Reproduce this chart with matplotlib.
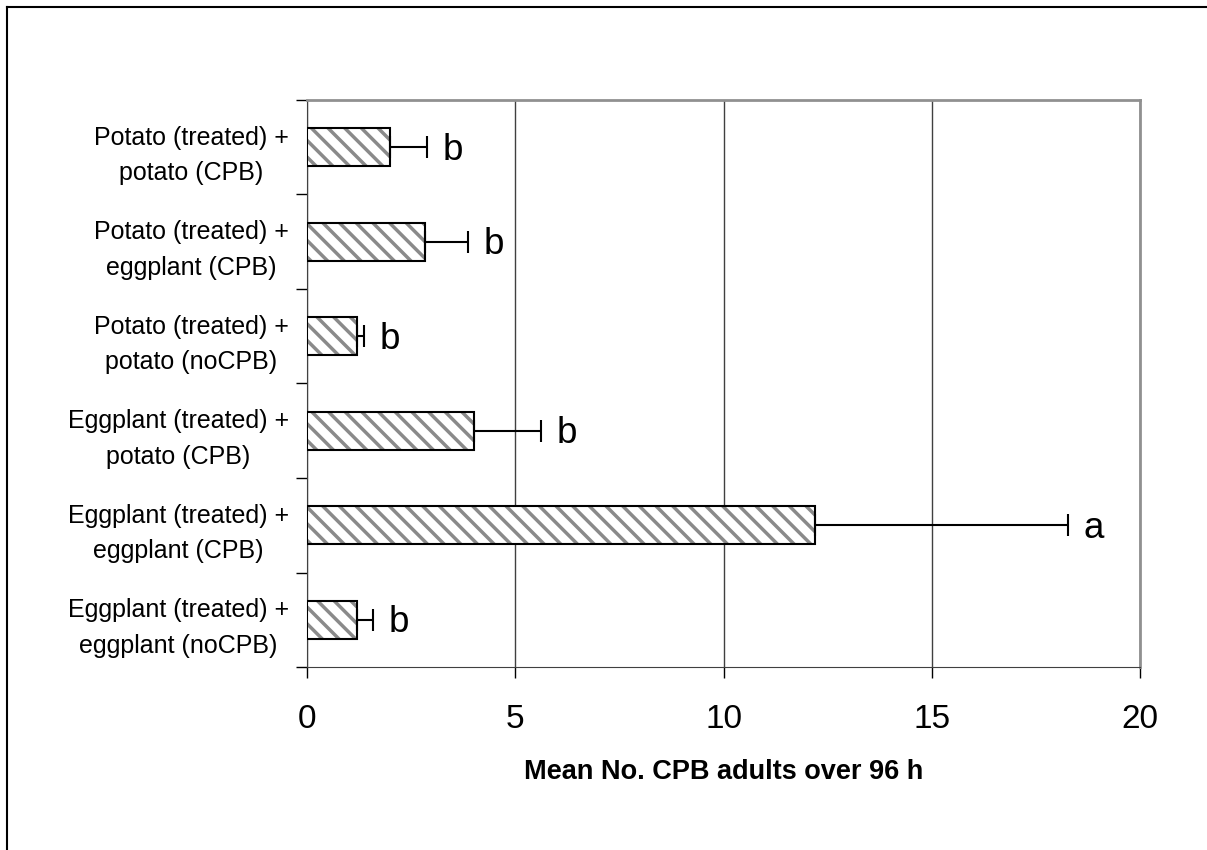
import matplotlib.pyplot as plt
from matplotlib.lines import Line2D

plt.rcParams['font.family'] = ['Liberation Sans', 'DejaVu Sans']
plt.rcParams['hatch.linewidth'] = 2.5

categories = ['Potato (treated) +\npotato (CPB)',
              'Potato (treated) +\neggplant (CPB)',
              'Potato (treated) +\npotato (noCPB)',
              'Eggplant (treated) +\npotato (CPB)',
              'Eggplant (treated) +\neggplant (CPB)',
              'Eggplant (treated) +\neggplant (noCPB)']
means = [2.0, 2.83, 1.2, 4.0, 12.2, 1.2]
errors = [0.88, 1.04, 0.17, 1.62, 6.07, 0.38]
letters = ['b', 'b', 'b', 'b', 'a', 'b']

fig = plt.figure(figsize=(12.07, 8.5), dpi=100)
ax = fig.add_axes([307/1207, 1-667/850, 833/1207, 567/850])

ypos = list(range(len(categories)))
# hatch layer (gray stripes) then black outline
ax.barh(ypos, means, height=0.4, color='white', edgecolor='#8a8a8a',
        linewidth=0, hatch='\\\\', zorder=3)
ax.barh(ypos, means, height=0.4, fill=False, edgecolor='black',
        linewidth=1.5, zorder=4)
ax.errorbar(means, ypos, xerr=[[0]*len(means), errors], fmt='none',
            ecolor='black', elinewidth=1.5, capsize=8, capthick=1.5, zorder=5)
for y, m, e, l in zip(ypos, means, errors, letters):
    ax.text(m + e + 0.38, y + 0.03, l, va='center', ha='left', fontsize=26.5)

ax.set_xlim(0, 20)
ax.set_ylim(len(categories) - 0.5, -0.5)
ax.set_xticks([0, 5, 10, 15, 20])
ax.tick_params(axis='x', labelsize=24, length=8, width=1, pad=19)
ax.set_yticks([y + 0.5 for y in [-1] + ypos], minor=False)
ax.set_yticklabels([])
ax.set_yticks(ypos, minor=True)
ax.set_yticklabels(categories, minor=True, fontsize=18, linespacing=1.6)
ax.tick_params(axis='y', which='major', length=8, width=1)
ax.tick_params(axis='y', which='minor', length=0, pad=13)
for t in ax.get_yticklabels(minor=True):
    t.set_multialignment('center')
ax.xaxis.grid(True, color='#404040', linewidth=1)
ax.set_axisbelow(True)
ax.spines['top'].set_color('#909090')
ax.spines['right'].set_color('#909090')
ax.spines['top'].set_linewidth(2)
ax.spines['right'].set_linewidth(2)
ax.spines['left'].set_color('#404040')
ax.spines['bottom'].set_color('#404040')
ax.set_xlabel('Mean No. CPB adults over 96 h', fontsize=19.5, fontweight='bold', labelpad=17)

# outer frame (left and top only visible)
fig.add_artist(Line2D([7/1207, 7/1207], [0, 1-7/850], color='black', linewidth=1.5))
fig.add_artist(Line2D([7/1207, 1], [1-7/850, 1-7/850], color='black', linewidth=1.5))

fig.savefig('out.png', dpi=100)
